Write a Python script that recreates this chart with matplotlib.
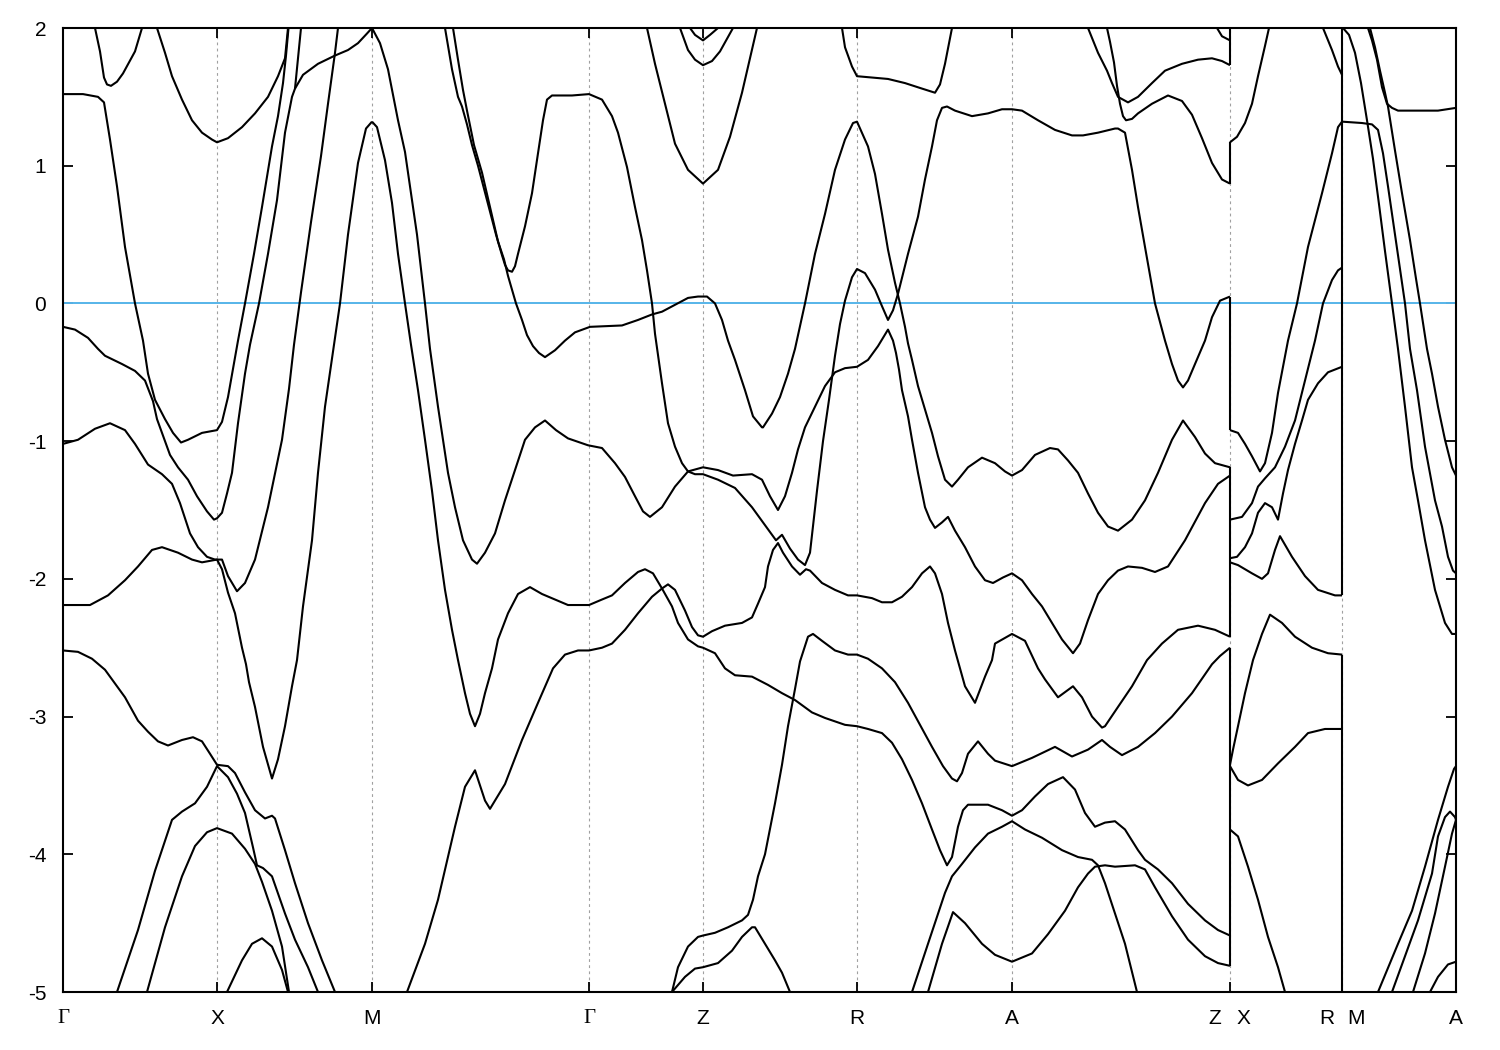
import matplotlib
matplotlib.use("Agg")
import matplotlib.pyplot as plt

# ---------------- data (k = path length, arbitrary units; E in eV) ----------------
kpts = [0, 154, 309, 526, 640, 794, 949, 1167, 1279, 1393]
klabels = ["Γ", "X", "M", "Γ", "Z", "R", "A", "", "", "A"]
break_labels = [(1167, "Z", "X"), (1279, "R", "M")]
yticks = [-5, -4, -3, -2, -1, 0, 1, 2]

# region Γ-X-M-Γ-Z-R-A-Z
gx_dip = [(32,2.0),(37,1.83),(41,1.64),(44,1.59),(48,1.58),(54,1.61),(60,1.67),(72,1.83),(79,2.0)]
x_bowl = [(94,2.0),(102,1.82),(109,1.65),(119,1.48),(129,1.33),(139,1.24),(149,1.19),(154,1.17),(165,1.20),
          (179,1.28),(192,1.38),(205,1.50),(215,1.65),(222,1.78),(225,2.0)]
band_a = [(0,1.52),(20,1.52),(35,1.50),(41,1.46),(47,1.19),(54,0.85),(62,0.41),(72,0.0),(80,-0.27),(85,-0.51),
          (92,-0.70),(102,-0.84),(110,-0.94),(118,-1.01),(125,-0.99),(139,-0.94),(154,-0.92),(159,-0.86),
          (165,-0.68),(175,-0.27),(182,0.0),(191,0.36),(199,0.70),(209,1.14),(215,1.36),(220,1.60),(223,1.80),(225.5,2.0)]
band_b = [(0,-0.17),(12,-0.19),(25,-0.25),(35,-0.33),(42,-0.38),(59,-0.44),(72,-0.49),(82,-0.56),(90,-0.71),
          (94,-0.84),(100,-0.96),(107,-1.10),(115,-1.19),(125,-1.28),(134,-1.40),(144,-1.51),(151,-1.57),
          (154,-1.56),(159,-1.52),(164,-1.38),(169,-1.23),(175,-0.87),(182,-0.51),(187,-0.30),(196,0.0),
          (205,0.36),(214,0.75),(222,1.24),(229,1.50),(232,1.56),(235,1.78),(238,2.0)]
branch_m = [(232,1.56),(240,1.66),(255,1.74),(272,1.80),(285,1.84),(295,1.89),(304,1.96),(309,2.0)]
band_c = [(0,-1.02),(15,-0.99),(32,-0.91),(47,-0.87),(62,-0.92),(72,-1.02),(85,-1.17),(99,-1.24),(109,-1.31),
          (117,-1.45),(127,-1.67),(135,-1.77),(144,-1.84),(152,-1.86),(154,-1.86),(159,-1.93),(165,-2.10),
          (172,-2.25),(179,-2.50),(183,-2.62),(186,-2.75),(192,-2.93),(200,-3.22),(209,-3.45),(215,-3.31),
          (222,-3.07),(229,-2.78),(234,-2.59),(240,-2.20),(249,-1.72),(255,-1.23),(262,-0.75),(269,-0.40),
          (277,0.0),(285,0.50),(295,1.02),(303,1.27),(309,1.32)]
band_d = [(0,-2.19),(27,-2.19),(45,-2.12),(62,-2.01),(75,-1.91),(89,-1.79),(99,-1.77),(115,-1.81),(129,-1.86),
          (139,-1.88),(154,-1.86),(159,-1.86),(165,-1.98),(174,-2.09),(182,-2.03),(192,-1.86),(205,-1.48),
          (219,-0.99),(226,-0.62),(231,-0.30),(238,0.08),(248,0.59),(258,1.07),(265,1.45),(272,1.82),(275,2.0)]
band_e = [(0,-2.52),(15,-2.53),(29,-2.58),(42,-2.66),(52,-2.76),(62,-2.86),(75,-3.03),(85,-3.11),(95,-3.18),
          (105,-3.21),(119,-3.17),(130,-3.15),(139,-3.18),(147,-3.27),(154,-3.35),(165,-3.36),(172,-3.41),
          (182,-3.55),(192,-3.68),(202,-3.74),(209,-3.72),(212,-3.74),(222,-3.97),(232,-4.21),(245,-4.50),
          (259,-4.77),(272,-5.0)]
low_1 = [(54,-5.0),(75,-4.55),(92,-4.12),(109,-3.75),(119,-3.69),(132,-3.63),(144,-3.51),(154,-3.36),(165,-3.44),
         (174,-3.56),(182,-3.70),(190,-3.95),(194,-4.08),(200,-4.10),(209,-4.16),(222,-4.43),(232,-4.62),
         (245,-4.82),(255,-5.0)]
low_2 = [(84,-5.0),(102,-4.53),(119,-4.16),(132,-3.94),(144,-3.84),(154,-3.81),(169,-3.85),(182,-3.96),
         (192,-4.07),(199,-4.20),(209,-4.41),(219,-4.67),(226,-5.0)]
low_3 = [(164,-5.0),(179,-4.77),(189,-4.65),(199,-4.61),(209,-4.67),(219,-4.84),(225,-5.0)]
band_f = [(309,2.0),(317,1.89),(325,1.70),(335,1.33),(342,1.10),(347,0.85),(354,0.50),(362,0.0),(367,-0.33),
          (375,-0.75),(385,-1.23),(392,-1.48),(400,-1.72),(409,-1.86),(414,-1.89),(422,-1.81),(432,-1.67),
          (442,-1.43),(452,-1.21),(462,-0.99),(472,-0.90),(482,-0.85),(493,-0.92),(505,-0.98),(525,-1.03),
          (539,-1.05),(552,-1.16),(562,-1.26),(572,-1.40),(580,-1.51),(587,-1.55),(599,-1.48),(612,-1.33),
          (625,-1.22),(640,-1.19),(655,-1.21),(670,-1.25),(689,-1.24),(699,-1.28),(707,-1.40),(715,-1.50),
          (722,-1.40),(729,-1.23),(735,-1.06),(742,-0.90),(752,-0.75),(762,-0.60),(772,-0.50),(782,-0.47),
          (794,-0.46),(805,-0.41),(815,-0.31),(825,-0.19),(830,-0.27),(833,-0.36),(836,-0.48),(839,-0.63),
          (845,-0.82),(849,-0.99),(855,-1.23),(862,-1.48),(867,-1.57),(872,-1.63),(879,-1.59),(885,-1.55),
          (892,-1.65),(902,-1.77),(912,-1.91),(922,-2.01),(930,-2.03),(940,-1.99),(949,-1.96),(959,-2.01),
          (969,-2.11),(979,-2.20),(989,-2.32),(999,-2.44),(1010,-2.54),(1017,-2.47),(1025,-2.30),(1035,-2.11),
          (1045,-2.01),(1055,-1.94),(1065,-1.91),(1079,-1.92),(1092,-1.95),(1105,-1.91),(1122,-1.72),
          (1142,-1.45),(1155,-1.31),(1167,-1.25)]
band_q = [(382,2.0),(389,1.70),(395,1.50),(399,1.43),(404,1.30),(409,1.15),(415,1.0),(424,0.75),(433,0.50),
          (439,0.35),(442,0.28),(445,0.24),(449,0.23),(452,0.27),(455,0.36),(462,0.56),(469,0.80),(475,1.09),
          (480,1.33),(484,1.48),(489,1.51),(509,1.51),(526,1.52),(539,1.48),(549,1.36),(555,1.24),(564,0.99),
          (572,0.70),(579,0.46),(584,0.24),(589,0.0),(592,-0.22),(599,-0.58),(605,-0.87),(612,-1.04),
          (619,-1.16),(625,-1.22),(632,-1.24),(640,-1.24),(655,-1.28),(672,-1.34),(689,-1.48),(702,-1.61),
          (713,-1.72),(719,-1.68),(727,-1.78),(735,-1.86),(742,-1.90),(747,-1.81),(754,-1.36),(760,-1.0),
          (766,-0.70),(772,-0.38),(777,-0.15),(782,0.02),(789,0.19),(794,0.25),(802,0.22),(812,0.10),
          (819,-0.02),(825,-0.12),(830,-0.05),(835,0.07),(845,0.36),(855,0.63),(862,0.90),(869,1.14),
          (874,1.33),(879,1.42),(884,1.43),(892,1.40),(909,1.36),(925,1.38),(939,1.41),(949,1.41),(959,1.40),
          (975,1.33),(992,1.26),(1009,1.22),(1020,1.22),(1035,1.24),(1052,1.27),(1055,1.27),(1062,1.24),
          (1069,0.97),(1075,0.70),(1082,0.41),(1092,0.0),(1102,-0.27),(1109,-0.44),(1115,-0.56),(1120,-0.61),
          (1125,-0.56),(1132,-0.44),(1142,-0.27),(1149,-0.10),(1157,0.02),(1167,0.05)]
band_r = [(390,2.0),(395,1.77),(400,1.55),(404,1.40),(411,1.15),(419,0.95),(427,0.70),(435,0.45),(441,0.32),
          (445,0.20),(449,0.10),(453,0.0),(459,-0.12),(464,-0.23),(470,-0.31),(476,-0.36),(482,-0.39),
          (492,-0.34),(502,-0.27),(512,-0.21),(527,-0.17),(559,-0.16),(575,-0.12),(589,-0.08),(599,-0.06),
          (612,-0.01),(625,0.04),(635,0.05),(644,0.05),(652,0.0),(659,-0.12),(665,-0.27),(672,-0.41),
          (682,-0.63),(690,-0.82),(699,-0.90),(700,-0.90),(709,-0.80),(717,-0.68),(725,-0.51),(732,-0.33),
          (742,0.0),(752,0.36),(762,0.65),(772,0.97),(782,1.19),(790,1.31),(794,1.32),(805,1.14),(812,0.94),
          (819,0.65),(825,0.39),(832,0.15),(837,0.0),(842,-0.17),(845,-0.29),(849,-0.41),(855,-0.60),
          (862,-0.77),(869,-0.94),(875,-1.11),(882,-1.28),(889,-1.33),(895,-1.28),(905,-1.19),(919,-1.12),
          (932,-1.16),(942,-1.22),(949,-1.25),(959,-1.21),(972,-1.10),(987,-1.05),(995,-1.06),(1005,-1.14),
          (1015,-1.23),(1025,-1.38),(1035,-1.52),(1045,-1.62),(1055,-1.65),(1069,-1.57),(1082,-1.43),
          (1095,-1.23),(1109,-0.99),(1120,-0.85),(1132,-0.97),(1142,-1.09),(1152,-1.16),(1167,-1.19)]
band_m = [(309,1.32),(314,1.28),(322,1.04),(329,0.73),(335,0.36),(342,0.0),(348,-0.30),(355,-0.63),(362,-0.99),
          (369,-1.36),(375,-1.72),(382,-2.08),(389,-2.37),(395,-2.59),(402,-2.83),(407,-2.98),(412,-3.07),
          (417,-2.98),(422,-2.83),(429,-2.65),(435,-2.44),(445,-2.25),(455,-2.11),(467,-2.06),(479,-2.11),
          (492,-2.15),(505,-2.19),(526,-2.19),(539,-2.15),(549,-2.12),(562,-2.03),(575,-1.95),(582,-1.93),
          (590,-1.96),(599,-2.07),(609,-2.20),(615,-2.32),(625,-2.44),(635,-2.49),(640,-2.50),(652,-2.54),
          (662,-2.65),(672,-2.70),(689,-2.71),(705,-2.77),(719,-2.83),(732,-2.88),(749,-2.97),(762,-3.01),
          (782,-3.06),(794,-3.07),(805,-3.09),(819,-3.12),(829,-3.19),(839,-3.31),(849,-3.46),(859,-3.63),
          (869,-3.82),(877,-3.97),(884,-4.08),(889,-4.02),(895,-3.80),(900,-3.68),(905,-3.64),(925,-3.64),
          (939,-3.68),(949,-3.72),(959,-3.68),(972,-3.58),(985,-3.49),(1000,-3.44),(1012,-3.53),(1022,-3.70),
          (1032,-3.80),(1042,-3.77),(1052,-3.76),(1062,-3.82),(1075,-3.97),(1082,-4.04),(1095,-4.11),
          (1109,-4.21),(1125,-4.36),(1142,-4.48),(1155,-4.55),(1167,-4.59)]
band_g = [(344,-5.0),(362,-4.65),(375,-4.33),(392,-3.80),(402,-3.51),(412,-3.39),(422,-3.61),(427,-3.67),
          (442,-3.49),(459,-3.17),(475,-2.90),(490,-2.65),(502,-2.55),(515,-2.52),(526,-2.52),(539,-2.50),
          (549,-2.47),(562,-2.37),(575,-2.25),(589,-2.13),(599,-2.07),(605,-2.04),(612,-2.08),(622,-2.23),
          (629,-2.35),(635,-2.41),(640,-2.42),(649,-2.38),(662,-2.34),(679,-2.32),(689,-2.28),(695,-2.18),
          (702,-2.06),(705,-1.91),(710,-1.79),(715,-1.74),(720,-1.81),(729,-1.91),(737,-1.97),(743,-1.93),
          (747,-1.94),(759,-2.03),(772,-2.08),(785,-2.12),(794,-2.12),(809,-2.14),(819,-2.17),(829,-2.17),
          (839,-2.13),(849,-2.06),(859,-1.96),(867,-1.91),(872,-1.96),(879,-2.11),(885,-2.32),(892,-2.52),
          (897,-2.65),(902,-2.78),(912,-2.90),(922,-2.71),(929,-2.59),(932,-2.47),(949,-2.40),(962,-2.45),
          (975,-2.65),(982,-2.73),(995,-2.86),(1010,-2.78),(1019,-2.86),(1029,-3.00),(1039,-3.08),
          (1042,-3.07),(1055,-2.93),(1069,-2.78),(1084,-2.59),(1099,-2.47),(1115,-2.37),(1135,-2.34),
          (1152,-2.37),(1167,-2.42)]
band_zs = [(609,-5.0),(615,-4.82),(625,-4.67),(635,-4.60),(640,-4.59),(652,-4.57),(665,-4.53),(679,-4.48),
           (685,-4.44),(690,-4.33),(695,-4.16),(702,-4.00),(712,-3.63),(719,-3.35),(725,-3.07),(732,-2.80),
           (737,-2.60),(745,-2.42),(750,-2.40),(759,-2.45),(772,-2.52),(785,-2.55),(794,-2.55),(805,-2.58),
           (819,-2.65),(832,-2.75),(845,-2.90),(857,-3.06),(869,-3.22),(880,-3.36),(889,-3.45),(894,-3.47),
           (899,-3.41),(905,-3.27),(915,-3.18),(925,-3.27),(932,-3.32),(949,-3.36),(969,-3.30),(992,-3.22),
           (1009,-3.29),(1025,-3.24),(1039,-3.17),(1047,-3.22),(1059,-3.28),(1075,-3.22),(1092,-3.12),
           (1109,-3.00),(1129,-2.83),(1149,-2.62),(1157,-2.56),(1167,-2.50)]
band_z48 = [(609,-5.0),(622,-4.89),(632,-4.83),(640,-4.82),(655,-4.79),(669,-4.70),(679,-4.60),(689,-4.53),
            (692,-4.53),(702,-4.65),(712,-4.77),(719,-4.86),(727,-5.0)]
ra_low1 = [(849,-5.0),(865,-4.65),(882,-4.28),(889,-4.16),(899,-4.07),(912,-3.95),(925,-3.85),(939,-3.80),
           (949,-3.76),(962,-3.82),(979,-3.88),(999,-3.97),(1015,-4.02),(1029,-4.04),(1035,-4.08),(1042,-4.21),
           (1052,-4.43),(1062,-4.65),(1074,-5.0)]
ra_low2 = [(865,-5.0),(879,-4.65),(890,-4.42),(902,-4.50),(919,-4.65),(932,-4.73),(949,-4.78),(969,-4.72),
           (985,-4.58),(1002,-4.41),(1015,-4.24),(1025,-4.14),(1032,-4.09),(1042,-4.08),(1052,-4.09),
           (1072,-4.08),(1082,-4.11),(1092,-4.24),(1109,-4.45),(1125,-4.62),(1142,-4.74),(1155,-4.79),(1167,-4.81)]
gz_top1 = [(584,2.0),(592,1.74),(602,1.45),(612,1.16),(625,0.97),(640,0.87),(655,0.97),(667,1.21),(679,1.53),(694,2.0)]
gz_top2 = [(617,2.0),(625,1.84),(632,1.77),(640,1.73),(649,1.76),(657,1.83),(670,2.0)]
gz_top3 = [(627,2.0),(632,1.95),(640,1.91),(647,1.95),(655,2.0)]
zr_top = [(779,2.0),(782,1.86),(789,1.72),(794,1.65),(825,1.63),(842,1.60),(859,1.56),(872,1.53),(877,1.59),
          (882,1.74),(889,2.0)]
az_top1 = [(1025,2.0),(1035,1.82),(1044,1.69),(1049,1.60),(1055,1.50),(1065,1.46),(1075,1.50),(1089,1.60),
           (1102,1.69),(1119,1.74),(1135,1.77),(1149,1.78),(1159,1.76),(1167,1.73)]
az_top2 = [(1044,2.0),(1047,1.90),(1051,1.75),(1054,1.58),(1057,1.45),(1060,1.36),(1063,1.33),(1069,1.34),
           (1075,1.38),(1089,1.45),(1105,1.51),(1119,1.47),(1129,1.37),(1139,1.20),(1149,1.02),(1159,0.90),(1167,0.87)]
az_top3 = [(1154,2.0),(1159,1.94),(1167,1.91)]

# region X-R
xr_1 = [(1167,1.17),(1174,1.21),(1182,1.31),(1189,1.45),(1195,1.65),(1202,1.87),(1206,2.0)]
xr_2 = [(1260,2.0),(1269,1.84),(1275,1.72),(1279,1.66)]
xr_3 = [(1167,-0.92),(1175,-0.94),(1182,-1.02),(1189,-1.11),(1197,-1.22),(1202,-1.16),(1209,-0.94),(1215,-0.65),
        (1225,-0.27),(1234,0.0),(1245,0.41),(1259,0.80),(1269,1.09),(1275,1.28),(1279,1.32)]
xr_4 = [(1167,-1.57),(1179,-1.55),(1189,-1.45),(1195,-1.33),(1202,-1.27),(1212,-1.19),(1222,-1.04),(1232,-0.85),
        (1242,-0.56),(1252,-0.27),(1260,0.0),(1269,0.17),(1275,0.24),(1279,0.26)]
xr_5 = [(1167,-1.85),(1174,-1.84),(1182,-1.77),(1189,-1.67),(1195,-1.52),(1202,-1.45),(1209,-1.48),(1215,-1.57),
        (1220,-1.38),(1225,-1.21),(1232,-1.02),(1239,-0.85),(1245,-0.70),(1255,-0.58),(1265,-0.50),(1279,-0.46)]
xr_6 = [(1167,-1.88),(1175,-1.90),(1189,-1.96),(1199,-2.00),(1205,-1.96),(1212,-1.79),(1217,-1.69),(1229,-1.84),
        (1242,-1.98),(1255,-2.08),(1272,-2.12),(1279,-2.12)]
xr_7 = [(1167,-3.35),(1170,-3.24),(1175,-3.07),(1182,-2.83),(1190,-2.59),(1199,-2.40),(1207,-2.26),(1219,-2.32),
        (1232,-2.42),(1249,-2.50),(1265,-2.54),(1279,-2.55)]
xr_8 = [(1167,-3.36),(1175,-3.46),(1185,-3.50),(1199,-3.46),(1215,-3.34),(1232,-3.22),(1245,-3.12),(1262,-3.09),(1279,-3.09)]
xr_9 = [(1167,-3.82),(1175,-3.87),(1185,-4.09),(1195,-4.33),(1205,-4.60),(1215,-4.82),(1222,-5.0)]

# region M-A
ma_1 = [(1280,2.0),(1286,1.95),(1292,1.82),(1298,1.60),(1304,1.33),(1310,1.05),(1316,0.72),(1322,0.38),(1329,0.0),
        (1335,-0.33),(1342,-0.75),(1349,-1.19),(1355,-1.43),(1362,-1.72),(1372,-2.08),(1382,-2.32),(1389,-2.40),(1393,-2.40)]
ma_2 = [(1305,2.0),(1309,1.91),(1314,1.77),(1319,1.57),(1324,1.45),(1329,1.42),(1335,1.40),(1359,1.40),(1375,1.40),(1393,1.42)]
ma_3 = [(1307,2.0),(1312,1.86),(1317,1.69),(1322,1.53),(1325,1.43),(1332,1.11),(1339,0.80),(1347,0.46),(1353,0.18),
        (1357,0.0),(1364,-0.33),(1369,-0.51),(1375,-0.75),(1382,-0.99),(1389,-1.19),(1393,-1.25)]
ma_4 = [(1279,1.32),(1299,1.31),(1309,1.30),(1315,1.26),(1320,1.09),(1325,0.85),(1332,0.50),(1337,0.25),(1342,0.0),
        (1347,-0.33),(1354,-0.63),(1362,-1.04),(1372,-1.43),(1379,-1.62),(1385,-1.84),(1390,-1.94),(1393,-1.96)]
ma_5 = [(1315,-5.0),(1335,-4.65),(1349,-4.41),(1362,-4.09),(1375,-3.75),(1385,-3.51),(1391,-3.38),(1393,-3.36)]
ma_6 = [(1329,-5.0),(1342,-4.74),(1355,-4.48),(1369,-4.14),(1375,-3.87),(1382,-3.73),(1387,-3.69),(1392,-3.73),(1393,-3.75)]
ma_7 = [(1350,-5.0),(1362,-4.72),(1372,-4.43),(1382,-4.09),(1389,-3.85),(1393,-3.75)]
ma_8 = [(1367,-5.0),(1375,-4.89),(1385,-4.80),(1393,-4.78)]

# band jumps at the path discontinuities (energy intervals joined by vertical segments)
zx_jump_lo = [1.73, 0.87, -0.92, -2.42, -4.81]
zx_jump_hi = [2.0, 1.17, 0.05, -1.19, -2.50]
rm_jump_lo = [-2.12, -5.0]
rm_jump_hi = [2.0, -2.55]

curves = [gx_dip, x_bowl, band_a, band_b, branch_m, band_c, band_d, band_e, low_1, low_2, low_3,
          band_f, band_q, band_r, band_m, band_g, band_zs, band_z48, ra_low1, ra_low2,
          gz_top1, gz_top2, gz_top3, zr_top, az_top1, az_top2, az_top3,
          xr_1, xr_2, xr_3, xr_4, xr_5, xr_6, xr_7, xr_8, xr_9,
          ma_1, ma_2, ma_3, ma_4, ma_5, ma_6, ma_7, ma_8]

# ---------------- drawing ----------------
plt.rcParams["font.family"] = ["Liberation Sans", "DejaVu Sans"]
plt.rcParams["axes.unicode_minus"] = False

fig = plt.figure(figsize=(15, 10.5), dpi=100)
ax = fig.add_axes([63 / 1500, 1 - 992 / 1050, (1456 - 63) / 1500, (992 - 28) / 1050])

for k in kpts[1:-1]:
    ax.axvline(k, color="#a0a0a0", lw=0.8, ls=(0, (2.5, 3)), zorder=1)

ax.axhline(0, color="#56b4e9", lw=1.4, zorder=2)

for c in curves:
    ks = [p[0] for p in c]
    es = [p[1] for p in c]
    ax.plot(ks, es, color="black", lw=1.5, zorder=3, solid_joinstyle="round", solid_capstyle="butt")

ax.vlines([kpts[7]] * len(zx_jump_lo), zx_jump_lo, zx_jump_hi, color="black", lw=1.5, zorder=3)
ax.vlines([kpts[8]] * len(rm_jump_lo), rm_jump_lo, rm_jump_hi, color="black", lw=1.5, zorder=3)

ax.set_xlim(kpts[0], kpts[-1])
ax.set_ylim(-5, 2)
ax.set_yticks(yticks)
ax.set_yticklabels([str(v) for v in yticks])
ax.set_xticks(kpts)
ax.set_xticklabels(klabels)
for lab in ax.get_xticklabels():
    if lab.get_text() == "Γ":
        lab.set_fontfamily(["Liberation Serif", "DejaVu Serif"])

fs = 15
xpad = 12
ax.tick_params(axis="both", direction="in", length=7, width=1.3, top=True, right=True,
               labelsize=fs, colors="black")
ax.tick_params(axis="x", pad=xpad)
ax.tick_params(axis="y", pad=12)
for k, l1, l2 in break_labels:
    ax.annotate(l1, xy=(k, 0), xycoords=ax.get_xaxis_transform(), xytext=(-11, -xpad),
                textcoords="offset points", ha="center", va="top", fontsize=fs)
    ax.annotate(l2, xy=(k, 0), xycoords=ax.get_xaxis_transform(), xytext=(10, -xpad),
                textcoords="offset points", ha="center", va="top", fontsize=fs)

for s in ax.spines.values():
    s.set_linewidth(1.5)
    s.set_zorder(5)

fig.savefig("out.png", dpi=100)
